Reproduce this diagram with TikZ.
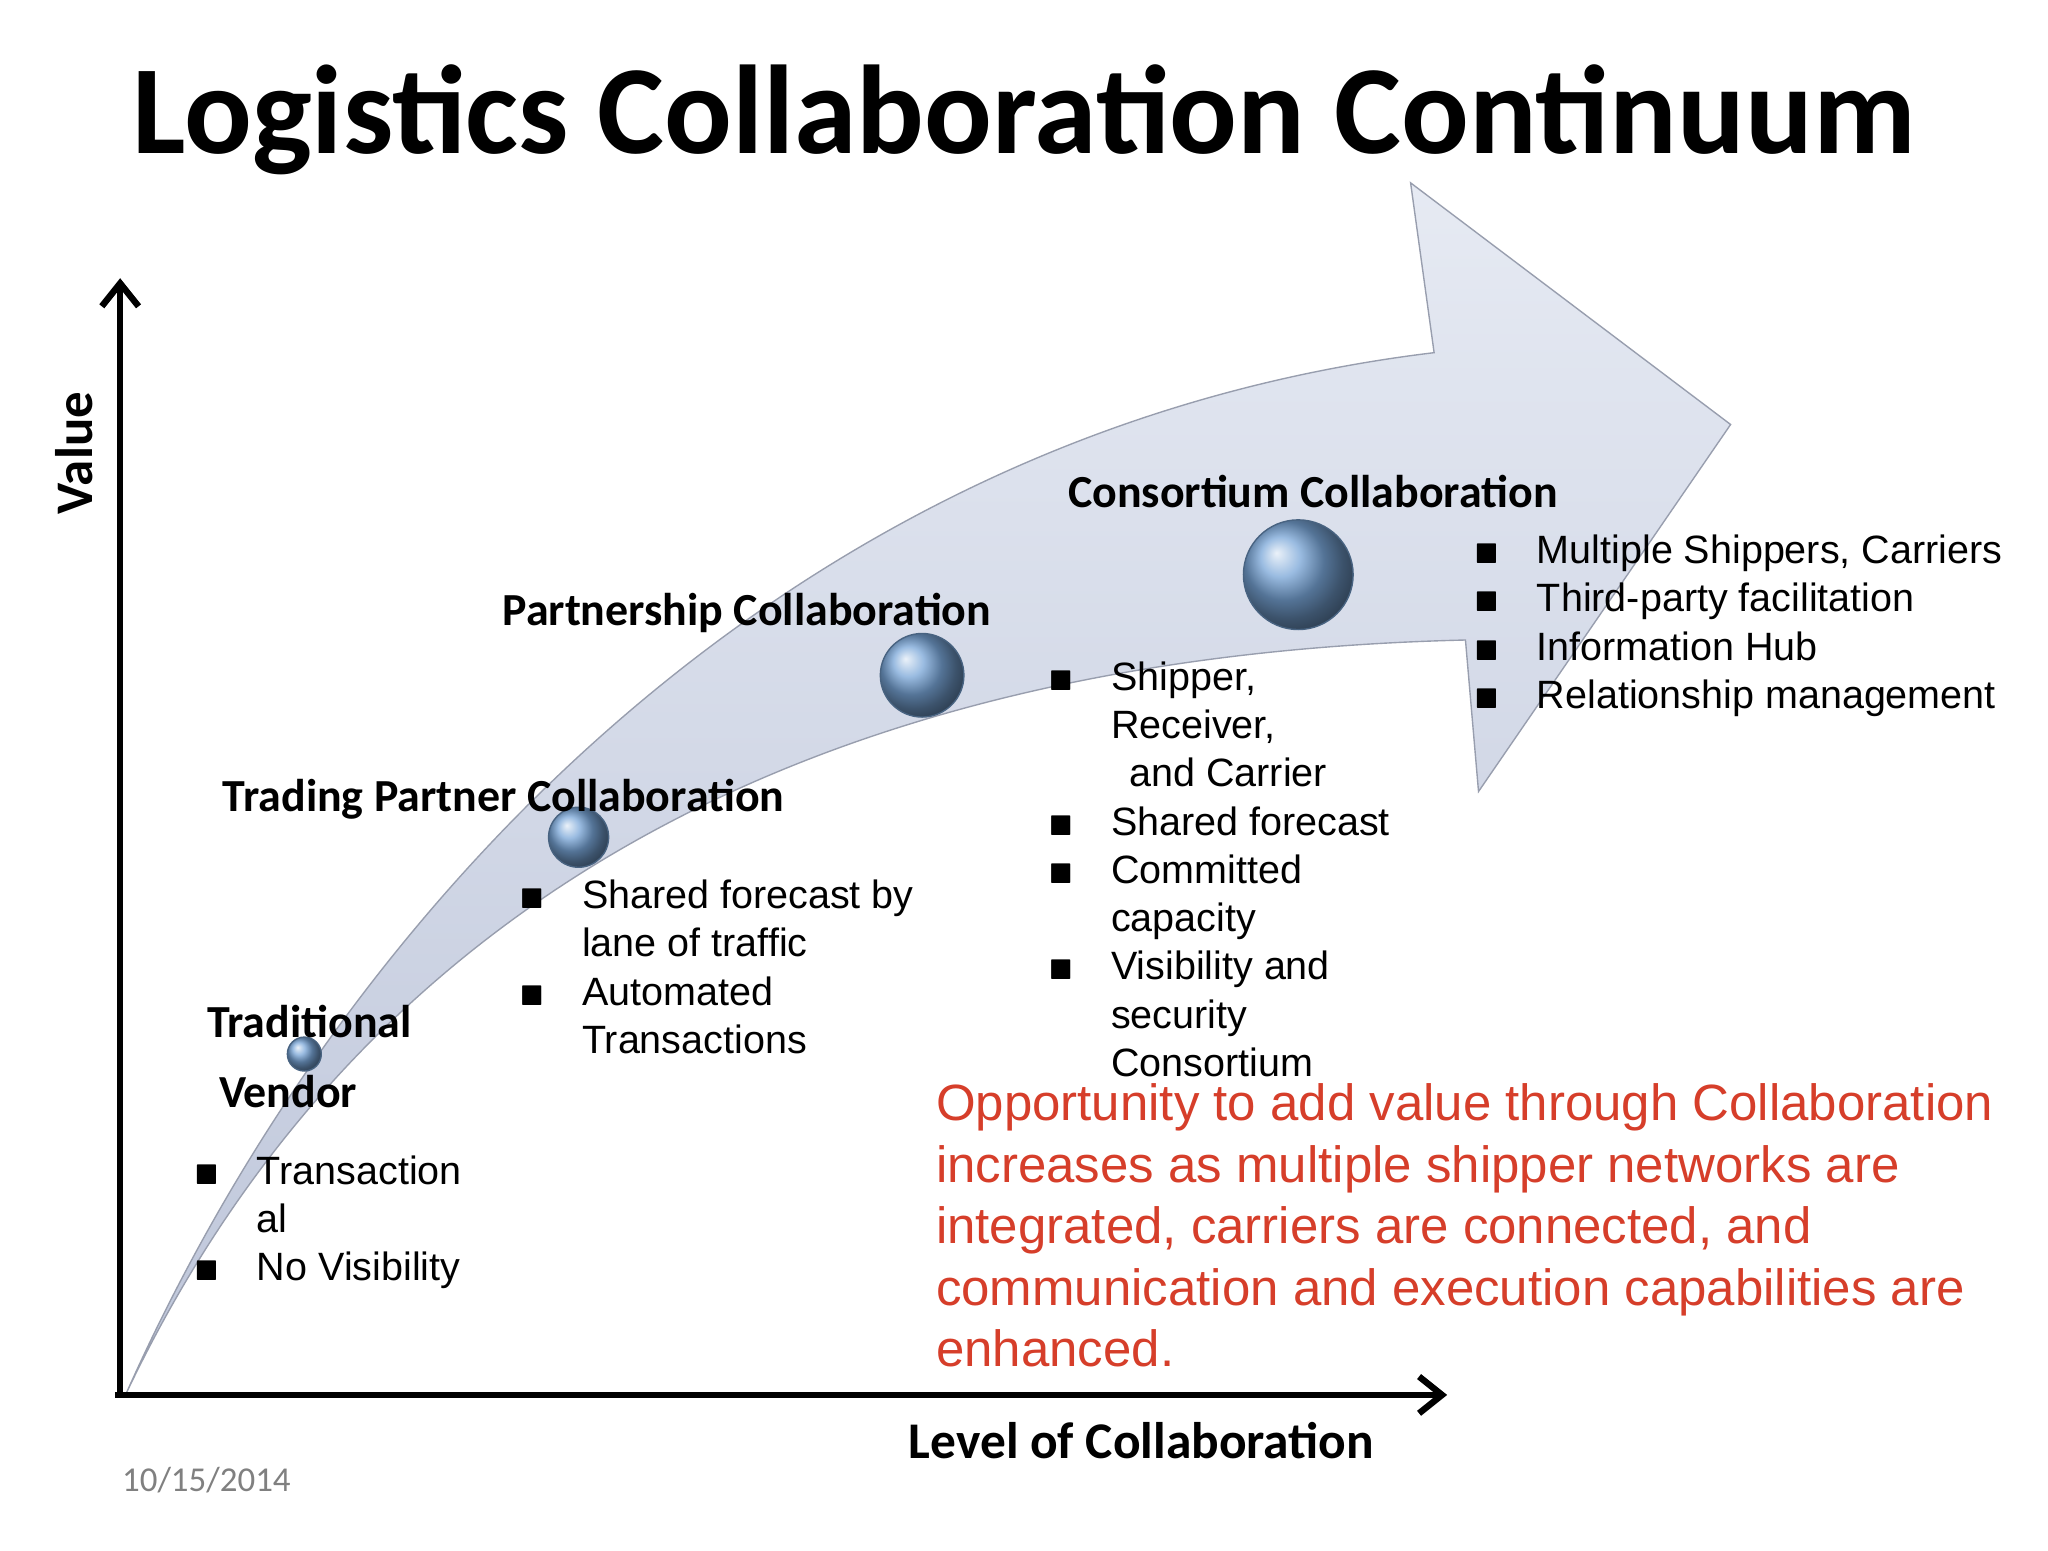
\documentclass[tikz,border=0pt]{standalone}
\usepackage{fontspec}
\usepackage{amssymb}
\setmainfont{Liberation Sans}
\newfontfamily\calib{Carlito}
\usetikzlibrary{arrows.meta}
\definecolor{band}{RGB}{190,198,218}
\definecolor{bandlight}{RGB}{230,234,243}
\definecolor{sph}{RGB}{120,165,215}
\definecolor{redtxt}{RGB}{214,62,42}
\tikzset{
  lbl/.style={font=\calib\bfseries\fontsize{10}{12}\selectfont,anchor=west,inner sep=0},
  blt/.style={font=\fontsize{8.6}{10.5}\selectfont,anchor=north west,inner sep=0,align=left},
  ball/.style={ball color=sph,draw=sph!60!black,line width=0.3pt},
  axis/.style={line width=1.4pt,-{Straight Barb[length=5pt,width=8pt]}}
}
\newcommand{\bul}{\makebox[4.8mm][l]{\tiny$\blacksquare$}}
\begin{document}
\begin{tikzpicture}[x=0.01cm,y=-0.01cm]
\useasboundingbox (0,0) rectangle (1568,1187);
\fill[white] (0,0) rectangle (1568,1187);
% curved arrow
\shadedraw[top color=bandlight,bottom color=band,draw=band!80!black,line width=0.3pt]
 (97,1066) .. controls (260,700) and (600,330) .. (1098,270)
 -- (1080,140) -- (1325,325) -- (1132,606) -- (1122,490)
 .. controls (700,500) and (300,640) .. (97,1066) -- cycle;
% axes
\draw[axis] (92,1070) -- (92,213);
\draw[axis] (88,1068) -- (1108,1068);
\node[font=\calib\bfseries\fontsize{11.5}{13}\selectfont,rotate=90] (yl) at (57,347) {Value};
\node[font=\calib\bfseries\fontsize{11.2}{13}\selectfont] (xl) at (874,1103) {Level of Collaboration};
\node[font=\calib\fontsize{7.6}{9}\selectfont,text=gray] (dt) at (158,1133) {10/15/2014};
% title
\node[font=\calib\bfseries\fontsize{27.5}{30}\selectfont] (title) at (784,92) {Logistics Collaboration Continuum};
% spheres
\shade[ball] (233,807) circle (13);
\shade[ball] (443,641) circle (23);
\shade[ball] (706,517) circle (32);
\shade[ball] (994,440) circle (42);
% labels
\node[lbl] (l1) at (158,782) {Traditional};
\node[lbl] (l1b) at (167,836) {Vendor};
\node[lbl] (l2) at (170,612) {Trading Partner Collaboration};
\node[lbl] (l3) at (384,469) {Partnership Collaboration};
\node[lbl] (l4) at (817,376) {Consortium Collaboration};
% bullets
\node[blt] (b1) at (148,884) {\bul Transaction\\\hspace{4.8mm}al\\\bul No Visibility};
\node[blt] (b2) at (397,673) {\bul Shared forecast by\\\hspace{4.8mm}lane of traffic\\\bul Automated\\\hspace{4.8mm}Transactions};
\node[blt] (b3) at (802,506) {\bul Shipper,\\\hspace{4.8mm}Receiver,\\\hspace{6.2mm}and Carrier\\\bul Shared forecast\\\bul Committed\\\hspace{4.8mm}capacity\\\bul Visibility and\\\hspace{4.8mm}security\\\hspace{4.8mm}Consortium};
\node[blt] (b4) at (1128,409) {\bul Multiple Shippers, Carriers\\\bul Third-party facilitation\\\bul Information Hub\\\bul Relationship management};
% red text
\node[font=\fontsize{11.1}{13.4}\selectfont,text=redtxt,anchor=north west,inner sep=0,align=left] (red) at (716,829)
 {Opportunity to add value through Collaboration\\increases as multiple shipper networks are\\integrated, carriers are connected, and\\communication and execution capabilities are\\enhanced.};
\end{tikzpicture}
\end{document}
